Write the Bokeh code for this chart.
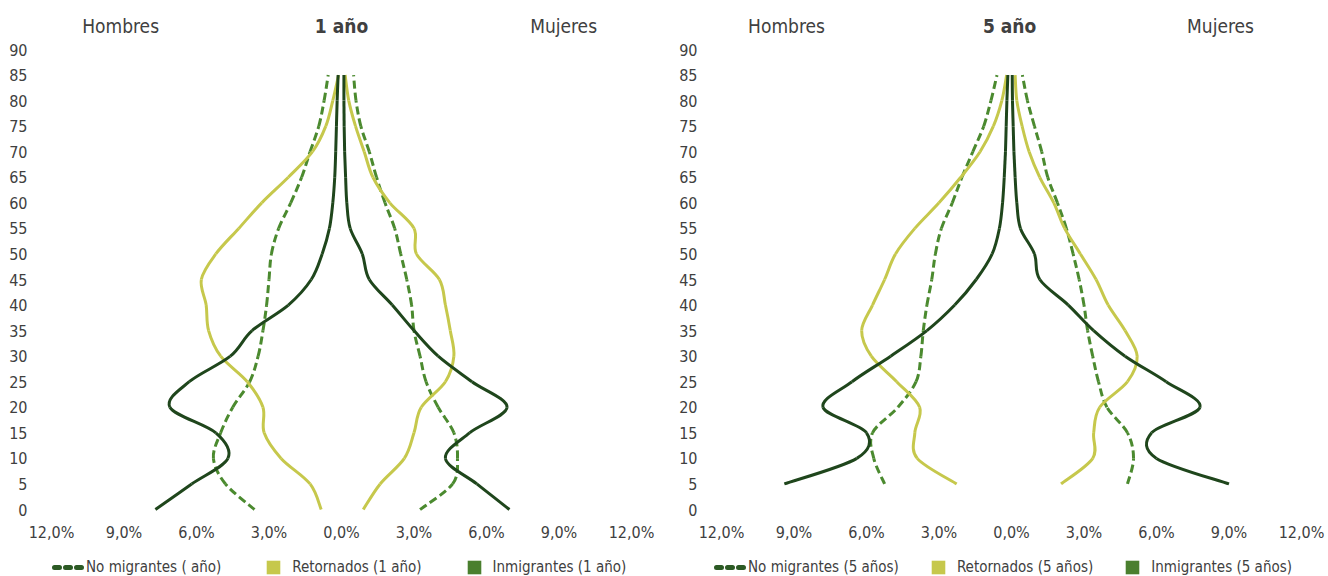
from bokeh.plotting import figure
from bokeh.layouts import row
from bokeh.models import (FixedTicker, CustomJSTickFormatter, Legend,
                          LegendItem, ColumnDataSource, Range1d)
from bokeh.embed import file_html
from bokeh.resources import INLINE
from bokeh.core.properties import value

# ---------------- data ----------------
ages_1 = [0, 5, 10, 15, 20, 25, 30, 35, 40, 45, 50, 55, 60, 65, 70, 75, 80, 85]
nomig_h_1 = [-3.6, -4.8, -5.3, -5.0, -4.5, -3.8, -3.45, -3.25, -3.1, -3.0, -2.9, -2.6, -2.1, -1.65, -1.3, -0.94, -0.72, -0.55]
nomig_m_1 = [3.25, 4.6, 4.8, 4.65, 4.0, 3.5, 3.25, 3.0, 2.9, 2.7, 2.45, 2.2, 1.8, 1.45, 1.15, 0.8, 0.6, 0.5]
retor_h_1 = [-0.84, -1.3, -2.5, -3.2, -3.25, -3.9, -5.0, -5.5, -5.6, -5.8, -5.2, -4.25, -3.3, -2.2, -1.2, -0.65, -0.36, -0.12]
retor_m_1 = [0.9, 1.6, 2.6, 3.0, 3.3, 4.3, 4.65, 4.5, 4.3, 4.05, 3.1, 3.0, 2.0, 1.3, 0.94, 0.58, 0.3, 0.15]
inmig_h_1 = [-7.7, -6.2, -4.7, -5.2, -7.1, -6.3, -4.6, -3.7, -2.2, -1.25, -0.8, -0.5, -0.36, -0.28, -0.24, -0.21, -0.18, -0.14]
inmig_m_1 = [6.95, 5.6, 4.3, 5.3, 6.85, 5.4, 4.0, 3.0, 2.1, 1.15, 0.86, 0.36, 0.22, 0.17, 0.13, 0.11, 0.1, 0.1]

ages_5 = [5, 10, 15, 20, 25, 30, 35, 40, 45, 50, 55, 60, 65, 70, 75, 80, 85]
nomig_h_5 = [-5.25, -5.7, -5.75, -4.7, -3.95, -3.75, -3.65, -3.5, -3.3, -3.15, -2.9, -2.45, -2.05, -1.6, -1.15, -0.85, -0.6]
nomig_m_5 = [4.8, 5.05, 4.8, 3.95, 3.6, 3.36, 3.15, 3.0, 2.8, 2.55, 2.27, 1.9, 1.5, 1.25, 0.95, 0.66, 0.45]
retor_h_5 = [-2.27, -3.9, -4.0, -3.8, -4.75, -5.8, -6.2, -5.75, -5.25, -4.8, -4.0, -3.0, -2.1, -1.3, -0.75, -0.4, -0.2]
retor_m_5 = [2.05, 3.36, 3.4, 3.65, 4.8, 5.2, 4.7, 4.0, 3.5, 2.85, 2.2, 1.75, 1.17, 0.73, 0.44, 0.22, 0.15]
inmig_h_5 = [-9.4, -6.4, -6.0, -7.8, -6.6, -5.0, -3.5, -2.35, -1.46, -0.8, -0.5, -0.37, -0.3, -0.25, -0.22, -0.19, -0.15]
inmig_m_5 = [9.0, 6.0, 5.8, 7.8, 6.4, 4.7, 3.4, 2.35, 1.17, 0.95, 0.37, 0.22, 0.15, 0.1, 0.07, 0.04, 0.03]

x_ticks = [-12, -9, -6, -3, 0, 3, 6, 9, 12]
y_ticks = [0, 5, 10, 15, 20, 25, 30, 35, 40, 45, 50, 55, 60, 65, 70, 75, 80, 85, 90]

titles_1 = ["Hombres", "1 año", "Mujeres"]
titles_5 = ["Hombres", "5 año", "Mujeres"]
legend_1 = ["No migrantes ( año)", "Retornados (1 año)", "Inmigrantes (1 año)"]
legend_5 = ["No migrantes (5 años)", "Retornados (5 años)", "Inmigrantes (5 años)"]

# ---------------- style ----------------
FONT = "'DejaVu Sans Condensed', 'DejaVu Sans', sans-serif"
TXT = "#404040"
DARK = "#1f461c"
MID = "#4b8a2f"
YEL = "#c6c84c"
LEG_DASH = "#2c5a24"
LEG_GREEN = "#4a7f2e"

W, H = 664, 576
PX_PER_AGE = 460 / 90.0
PX_PER_PCT = 580 / 24.0
Y_TOP = 90 + 49 / PX_PER_AGE            # frame spans the whole canvas
Y_BOT = -(H - 509) / PX_PER_AGE
TITLE_Y = 90 + 24 / PX_PER_AGE


def smooth_source(xs, ys):
    """Bezier segments (Excel-like smoothed line) through the data points."""
    n = len(xs)
    d = dict(x0=[], y0=[], x1=[], y1=[], cx0=[], cy0=[], cx1=[], cy1=[])
    for i in range(n - 1):
        im = max(i - 1, 0)
        ip2 = min(i + 2, n - 1)
        d["x0"].append(xs[i]); d["y0"].append(ys[i])
        d["x1"].append(xs[i + 1]); d["y1"].append(ys[i + 1])
        d["cx0"].append(xs[i] + (xs[i + 1] - xs[im]) / 6.0)
        d["cy0"].append(ys[i] + (ys[i + 1] - ys[im]) / 6.0)
        d["cx1"].append(xs[i + 1] - (xs[ip2] - xs[i]) / 6.0)
        d["cy1"].append(ys[i + 1] - (ys[ip2] - ys[i]) / 6.0)
    return ColumnDataSource(d)


def make_panel(ages, nm_h, nm_m, rt_h, rt_m, im_h, im_m, titles, title_x, labels,
               pad_left, pad_right, leg_x, leg_spacing):
    x0 = -12 - pad_left / PX_PER_PCT
    x1 = 12 + pad_right / PX_PER_PCT
    p = figure(width=W, height=H, output_backend="svg", toolbar_location=None,
               x_range=Range1d(x0, x1), y_range=Range1d(Y_BOT, Y_TOP),
               min_border_left=0, min_border_right=0,
               min_border_top=0, min_border_bottom=0)
    p.outline_line_color = None
    p.xgrid.visible = False
    p.ygrid.visible = False

    for ax in (p.xaxis, p.yaxis):
        ax.axis_line_color = None
        ax.major_tick_line_color = None
        ax.minor_tick_line_color = None
        ax.major_tick_out = 0
        ax.major_tick_in = 0
        ax.major_label_text_font = FONT
        ax.major_label_text_font_size = "16px"
        ax.major_label_text_color = TXT
    p.xaxis.ticker = FixedTicker(ticks=x_ticks)
    p.xaxis.formatter = CustomJSTickFormatter(
        code="return Math.abs(tick).toFixed(1).replace('.', ',') + '%';")
    p.xaxis.major_label_standoff = 13
    p.xaxis.fixed_location = 0
    p.yaxis.ticker = FixedTicker(ticks=y_ticks)
    p.yaxis.major_label_standoff = 24
    p.yaxis.fixed_location = -12

    for xs, col, dash in ((nm_h, MID, "8 4"), (nm_m, MID, "8 4"),
                          (rt_h, YEL, "solid"), (rt_m, YEL, "solid"),
                          (im_h, DARK, "solid"), (im_m, DARK, "solid")):
        p.bezier(x0="x0", y0="y0", x1="x1", y1="y1", cx0="cx0", cy0="cy0",
                 cx1="cx1", cy1="cy1", source=smooth_source(xs, ages),
                 line_color=col, line_width=3, line_dash=dash)

    # panel titles (above the 90 tick)
    p.text(x=[title_x[0], title_x[2]], y=[TITLE_Y, TITLE_Y], text=[titles[0], titles[2]],
           text_align="center", text_baseline="middle", text_font=value(FONT),
           text_font_size="19px", text_color=TXT)
    p.text(x=[title_x[1]], y=[TITLE_Y], text=[titles[1]],
           text_align="center", text_baseline="middle", text_font=value(FONT),
           text_font_size="19px", text_color=TXT, text_font_style="bold")

    # hidden proxy renderers that give the legend its swatches
    r_nm = p.line(x=nm_h, y=ages, line_color=LEG_DASH, line_width=5, line_dash="5 6",
                  line_dash_offset=7, line_cap="round", visible=False)
    r_rt = p.scatter(x=rt_h, y=ages, marker="square", fill_color=YEL, line_color=None,
                     visible=False)
    r_im = p.scatter(x=im_h, y=ages, marker="square", fill_color=LEG_GREEN, line_color=None,
                     visible=False)

    leg = Legend(items=[LegendItem(label=value(labels[0]), renderers=[r_nm]),
                        LegendItem(label=value(labels[1]), renderers=[r_rt]),
                        LegendItem(label=value(labels[2]), renderers=[r_im])],
                 location=(leg_x, -8), orientation="horizontal",
                 glyph_width=34, glyph_height=34, label_standoff=2,
                 padding=0, margin=0, spacing=leg_spacing, border_line_color=None,
                 background_fill_alpha=0, inactive_fill_alpha=0,
                 label_text_font=FONT, label_text_font_size="15px",
                 label_text_color=TXT, label_height=20, click_policy="none")
    p.add_layout(leg, "center")
    return p


p1 = make_panel(ages_1, nomig_h_1, nomig_m_1, retor_h_1, retor_m_1, inmig_h_1, inmig_m_1,
                titles_1, (-9.14, 0.0, 9.19), legend_1, 51, 33, 50, 35)
p2 = make_panel(ages_5, nomig_h_5, nomig_m_5, retor_h_5, retor_m_5, inmig_h_5, inmig_m_5,
                titles_5, (-9.31, -0.08, 8.65), legend_5, 57, 27, 48, 22)

layout = row(p1, p2)
open("out.html", "w").write(file_html(layout, INLINE))
